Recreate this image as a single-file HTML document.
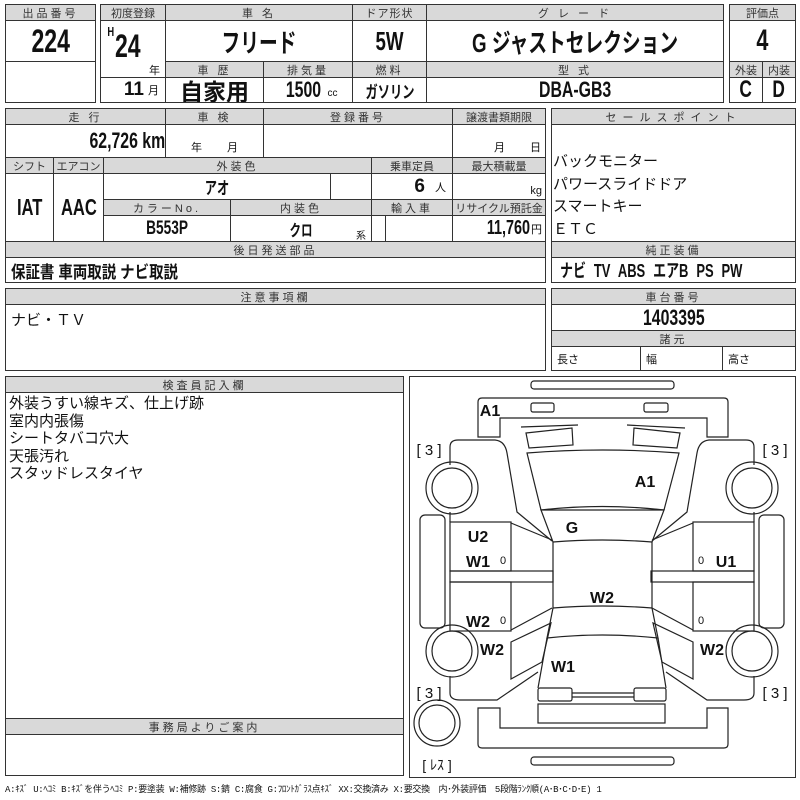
<!DOCTYPE html>
<html><head><meta charset="utf-8"><style>
*{box-sizing:border-box;margin:0;padding:0}
body{width:800px;height:800px;background:#fff;position:relative;overflow:hidden;font-family:"Liberation Sans","Noto Sans CJK JP",sans-serif;color:#111}
.c{position:absolute;border:1px solid #333;display:flex;align-items:center;justify-content:center;white-space:nowrap;overflow:hidden}
.h{background:#d9d9d9;font-size:11px;letter-spacing:3px;color:#333}
.b{font-family:"Liberation Sans","Noto Sans CJK JP",sans-serif;font-weight:bold}
.n{display:inline-block;transform:scaleX(.72);white-space:nowrap}
.t{position:absolute;white-space:nowrap}
</style></head><body>
<div class="c h" style="left:5px;top:4px;width:91px;height:17px">出品番号</div>
<div class="c b" style="left:5px;top:20px;width:91px;height:42px;font-size:32px"><span class="n">224</span></div>
<div class="c" style="left:5px;top:61px;width:91px;height:42px"></div>
<div class="c h" style="left:100px;top:4px;width:66px;height:17px;letter-spacing:0">初度登録</div>
<div class="c h" style="left:165px;top:4px;width:188px;height:17px">車 名</div>
<div class="c h" style="left:352px;top:4px;width:75px;height:17px;letter-spacing:1px">ドア形状</div>
<div class="c h" style="left:426px;top:4px;width:298px;height:17px">グ レ ー ド</div>
<div class="c" style="left:100px;top:20px;width:66px;height:58px"></div>
<div class="t b" style="left:106px;top:24px;font-size:13px"><span class="n">H</span></div>
<div class="t b" style="left:110px;top:28px;font-size:32px"><span class="n">24</span></div>
<div class="t" style="left:149px;top:62px;font-size:11px">年</div>
<div class="c b" style="left:165px;top:20px;width:188px;height:42px;font-size:26px"><span class="n">フリード</span></div>
<div class="c b" style="left:352px;top:20px;width:75px;height:42px;font-size:26px"><span class="n">5W</span></div>
<div class="c b" style="left:426px;top:20px;width:298px;height:42px;font-size:26px"><span class="n">G ジャストセレクション</span></div>
<div class="c h" style="left:165px;top:61px;width:99px;height:17px">車 歴</div>
<div class="c h" style="left:263px;top:61px;width:90px;height:17px">排気量</div>
<div class="c h" style="left:352px;top:61px;width:75px;height:17px">燃料</div>
<div class="c h" style="left:426px;top:61px;width:298px;height:17px">型 式</div>
<div class="c" style="left:100px;top:77px;width:66px;height:26px;justify-content:flex-end;padding-right:6px"><span class="b" style="font-size:19px">11</span><span style="font-size:11px;margin-left:4px">月</span></div>
<div class="c b" style="left:165px;top:77px;width:99px;height:26px;font-size:23px">自家用</div>
<div class="c" style="left:263px;top:77px;width:90px;height:26px"><span class="b n" style="font-size:22px">1500</span><span style="font-size:10px;margin-top:6px">cc</span></div>
<div class="c b" style="left:352px;top:77px;width:75px;height:26px;font-size:17px"><span class="n">ガソリン</span></div>
<div class="c b" style="left:426px;top:77px;width:298px;height:26px;font-size:22px"><span class="n">DBA-GB3</span></div>
<div class="c h" style="left:729px;top:4px;width:67px;height:17px;letter-spacing:0">評価点</div>
<div class="c b" style="left:729px;top:20px;width:67px;height:42px;font-size:30px"><span class="n">4</span></div>
<div class="c h" style="left:729px;top:61px;width:34px;height:17px;letter-spacing:0">外装</div>
<div class="c h" style="left:762px;top:61px;width:34px;height:17px;letter-spacing:0">内装</div>
<div class="c b" style="left:729px;top:77px;width:34px;height:26px;font-size:24px"><span class="n">C</span></div>
<div class="c b" style="left:762px;top:77px;width:34px;height:26px;font-size:24px"><span class="n">D</span></div>
<div class="c h" style="left:5px;top:108px;width:161px;height:17px">走 行</div>
<div class="c h" style="left:165px;top:108px;width:99px;height:17px">車 検</div>
<div class="c h" style="left:263px;top:108px;width:190px;height:17px">登録番号</div>
<div class="c h" style="left:452px;top:108px;width:94px;height:17px;letter-spacing:0">譲渡書類期限</div>
<div class="c b" style="left:5px;top:124px;width:161px;height:34px;justify-content:flex-end;padding-right:0;font-size:22px"><span class="n" style="transform-origin:right">62,726 km</span></div>
<div class="c" style="left:165px;top:124px;width:99px;height:34px;align-items:flex-end;font-size:11px;padding-bottom:2px">年　　 月</div>
<div class="c" style="left:263px;top:124px;width:190px;height:34px"></div>
<div class="c" style="left:452px;top:124px;width:94px;height:34px;align-items:flex-end;justify-content:flex-end;font-size:11px;padding:0 4px 2px 0">月　　 日</div>
<div class="c h" style="left:5px;top:157px;width:49px;height:17px;letter-spacing:0">シフト</div>
<div class="c h" style="left:53px;top:157px;width:51px;height:17px;letter-spacing:0">エアコン</div>
<div class="c h" style="left:103px;top:157px;width:269px;height:17px">外装色</div>
<div class="c h" style="left:371px;top:157px;width:82px;height:17px;letter-spacing:0">乗車定員</div>
<div class="c h" style="left:452px;top:157px;width:94px;height:17px;letter-spacing:0">最大積載量</div>
<div class="c b" style="left:5px;top:173px;width:49px;height:69px;font-size:23px"><span class="n">IAT</span></div>
<div class="c b" style="left:53px;top:173px;width:51px;height:69px;font-size:23px"><span class="n">AAC</span></div>
<div class="c b" style="left:103px;top:173px;width:228px;height:27px;font-size:17px"><span class="n">アオ</span></div>
<div class="c" style="left:330px;top:173px;width:42px;height:27px"></div>
<div class="c" style="left:371px;top:173px;width:82px;height:27px;justify-content:flex-end;padding-right:6px"><span class="b" style="font-size:19px">6</span><span style="font-size:11px;margin-left:10px">人</span></div>
<div class="c" style="left:452px;top:173px;width:94px;height:27px;justify-content:flex-end;align-items:flex-end;padding:0 3px 2px 0;font-size:11px">kg</div>
<div class="c h" style="left:103px;top:199px;width:128px;height:17px">カラーNo.</div>
<div class="c h" style="left:230px;top:199px;width:142px;height:17px">内装色</div>
<div class="c h" style="left:371px;top:199px;width:82px;height:17px">輸入車</div>
<div class="c h" style="left:452px;top:199px;width:94px;height:17px;letter-spacing:0">リサイクル預託金</div>
<div class="c b" style="left:103px;top:215px;width:128px;height:27px;font-size:19px"><span class="n">B553P</span></div>
<div class="c" style="left:230px;top:215px;width:142px;height:27px"><span class="b n" style="font-size:16px">クロ</span></div>
<div class="t" style="left:356px;top:227px;font-size:10px">系</div>
<div class="c" style="left:371px;top:215px;width:15px;height:27px"></div>
<div class="c" style="left:385px;top:215px;width:68px;height:27px"></div>
<div class="c" style="left:452px;top:215px;width:94px;height:27px;justify-content:flex-end;padding-right:3px"><span class="b n" style="font-size:20px;transform-origin:right">11,760</span><span style="font-size:11px;margin-left:1px">円</span></div>
<div class="c h" style="left:5px;top:241px;width:541px;height:17px">後日発送部品</div>
<div class="c b" style="left:5px;top:257px;width:541px;height:26px;justify-content:flex-start;padding-left:5px;font-size:17px"><span class="n" style="transform-origin:left;transform:scaleX(.85)">保証書 車両取説 ナビ取説</span></div>
<div class="c h" style="left:551px;top:108px;width:245px;height:17px;letter-spacing:6px">セールスポイント</div>
<div class="c" style="left:551px;top:124px;width:245px;height:118px"></div>
<div class="t" style="left:553px;top:151px;font-size:15px;line-height:22.5px">バックモニター<br>パワースライドドア<br>スマートキー<br>ＥＴＣ</div>
<div class="c h" style="left:551px;top:241px;width:245px;height:17px">純正装備</div>
<div class="c b" style="left:551px;top:257px;width:245px;height:26px;justify-content:flex-start;padding-left:8px;font-size:18px"><span class="n" style="transform-origin:left;word-spacing:6px">ナビ TV ABS エアB PS PW</span></div>
<div class="c h" style="left:5px;top:288px;width:541px;height:17px">注意事項欄</div>
<div class="c" style="left:5px;top:304px;width:541px;height:67px;align-items:flex-start;justify-content:flex-start;padding:4px 5px;font-size:15px">ナビ・ＴＶ</div>
<div class="c h" style="left:551px;top:288px;width:245px;height:17px">車台番号</div>
<div class="c b" style="left:551px;top:304px;width:245px;height:27px;font-size:22px"><span class="n">1403395</span></div>
<div class="c h" style="left:551px;top:330px;width:245px;height:17px">諸元</div>
<div class="c" style="left:551px;top:346px;width:90px;height:25px;justify-content:flex-start;padding-left:5px;font-size:11px">長さ</div>
<div class="c" style="left:640px;top:346px;width:83px;height:25px;justify-content:flex-start;padding-left:5px;font-size:11px">幅</div>
<div class="c" style="left:722px;top:346px;width:74px;height:25px;justify-content:flex-start;padding-left:5px;font-size:11px">高さ</div>
<div class="c h" style="left:5px;top:376px;width:399px;height:17px">検査員記入欄</div>
<div class="c" style="left:5px;top:392px;width:399px;height:327px"></div>
<div class="t" style="left:9px;top:395px;font-size:15px;line-height:17.5px">外装うすい線キズ、仕上げ跡<br>室内内張傷<br>シートタバコ穴大<br>天張汚れ<br>スタッドレスタイヤ</div>
<div class="c h" style="left:5px;top:718px;width:399px;height:17px">事務局よりご案内</div>
<div class="c" style="left:5px;top:734px;width:399px;height:42px"></div>
<div class="c" style="left:409px;top:376px;width:387px;height:402px"></div>
<svg style="position:absolute;left:0;top:0" width="800" height="800" fill="none" stroke="#222" stroke-width="1.2">
<rect x="531" y="381" width="143" height="8" rx="3"/>
<rect x="531" y="757" width="143" height="8" rx="3"/>
<path d="M478,437 L478,402 Q478,398 482,398 L724,398 Q728,398 728,402 L728,437 L707,437 L707,418 L500,418 L500,437 Z"/>
<rect x="531" y="403" width="23" height="9" rx="2"/><rect x="644" y="403" width="24" height="9" rx="2"/>
<path d="M478,708 L500,708 L500,728 L707,728 L707,708 L728,708 L728,744 Q728,748 724,748 L482,748 Q478,748 478,744 Z"/>
<path d="M521,427 L578,425 M627,425 L685,428"/>
<path d="M526,433 L572,428 L573,445 L529,448 Z M680,433 L634,428 L633,445 L677,448 Z"/>
<path d="M527,453 Q602,447 679,453 L664,510 L541,510 Z"/>
<path d="M541,510 Q602,503 664,510 L652,542 Q602,538 553,542 Z"/>
<path d="M553,542 L553,608 Q602,604 652,608 L652,542"/>
<path d="M553,608 L547,638 Q602,632 658,638 L652,608"/>
<path d="M547,638 L538,688 M658,638 L666,688"/>
<rect x="538" y="688" width="34" height="13" rx="2"/><rect x="634" y="688" width="32" height="13" rx="2"/>
<path d="M572,693 L634,693 M572,697 L634,697"/>
<rect x="538" y="704" width="127" height="19"/>
<g id="L">
<path d="M450,465 L450,447 Q450,440 458,440 L495,440 Q505,441 507,453 L517,512 L552,541"/>
<path d="M450,512 L450,522"/>
<circle cx="452" cy="488" r="26"/><circle cx="452" cy="488" r="20"/>
<rect x="450" y="522" width="61" height="49"/>
<rect x="450" y="571" width="103" height="11"/>
<rect x="450" y="582" width="61" height="49"/>
<path d="M511,523 L552,540 M511,630 L552,608"/>
<rect x="420" y="515" width="25" height="113" rx="5"/>
<circle cx="452" cy="651" r="26"/><circle cx="452" cy="651" r="20"/>
<path d="M511,642 L551,623 L542,662 L511,679 Z"/>
<path d="M450,676 L450,693 Q450,700 460,700 L497,700 L538,672"/>
</g>
<g transform="translate(1204,0) scale(-1,1)">
<path d="M450,465 L450,447 Q450,440 458,440 L495,440 Q505,441 507,453 L517,512 L552,541"/>
<path d="M450,512 L450,522"/>
<circle cx="452" cy="488" r="26"/><circle cx="452" cy="488" r="20"/>
<rect x="450" y="522" width="61" height="49"/>
<rect x="450" y="571" width="103" height="11"/>
<rect x="450" y="582" width="61" height="49"/>
<path d="M511,523 L552,540 M511,630 L552,608"/>
<rect x="420" y="515" width="25" height="113" rx="5"/>
<circle cx="452" cy="651" r="26"/><circle cx="452" cy="651" r="20"/>
<path d="M511,642 L551,623 L542,662 L511,679 Z"/>
<path d="M450,676 L450,693 Q450,700 460,700 L497,700 L538,672"/>
</g>
<circle cx="437" cy="723" r="23"/><circle cx="437" cy="723" r="18"/>
<g fill="#111" stroke="none" font-family="Liberation Sans,Noto Sans CJK JP,sans-serif" font-weight="bold" font-size="16" text-anchor="middle">
<text x="490" y="416">A1</text><text x="645" y="487">A1</text><text x="572" y="533">G</text>
<text x="478" y="542">U2</text><text x="478" y="567">W1</text><text x="726" y="567">U1</text>
<text x="602" y="603">W2</text><text x="478" y="627">W2</text><text x="492" y="655">W2</text>
<text x="712" y="655">W2</text><text x="563" y="672">W1</text>
<text x="503" y="564" font-size="11" font-weight="normal">0</text><text x="701" y="564" font-size="11" font-weight="normal">0</text>
<text x="503" y="624" font-size="11" font-weight="normal">0</text><text x="701" y="624" font-size="11" font-weight="normal">0</text>
<text x="429" y="455" font-size="15" font-weight="normal">[ 3 ]</text><text x="775" y="455" font-size="15" font-weight="normal">[ 3 ]</text>
<text x="429" y="698" font-size="15" font-weight="normal">[ 3 ]</text><text x="775" y="698" font-size="15" font-weight="normal">[ 3 ]</text>
<text x="437" y="770" font-size="14" font-weight="normal">[ ﾚｽ ]</text>
</g>
</svg>
<div class="t" style="left:5px;top:782px;font-size:9px;font-family:'Liberation Mono','Noto Sans CJK JP',monospace;letter-spacing:-0.3px">A:ｷｽﾞ U:ﾍｺﾐ B:ｷｽﾞを伴うﾍｺﾐ P:要塗装 W:補修跡 S:錆 C:腐食 G:ﾌﾛﾝﾄｶﾞﾗｽ点ｷｽﾞ XX:交換済み X:要交換　内･外装評価　5段階ﾗﾝｸ順(A･B･C･D･E) 1</div>
</body></html>
